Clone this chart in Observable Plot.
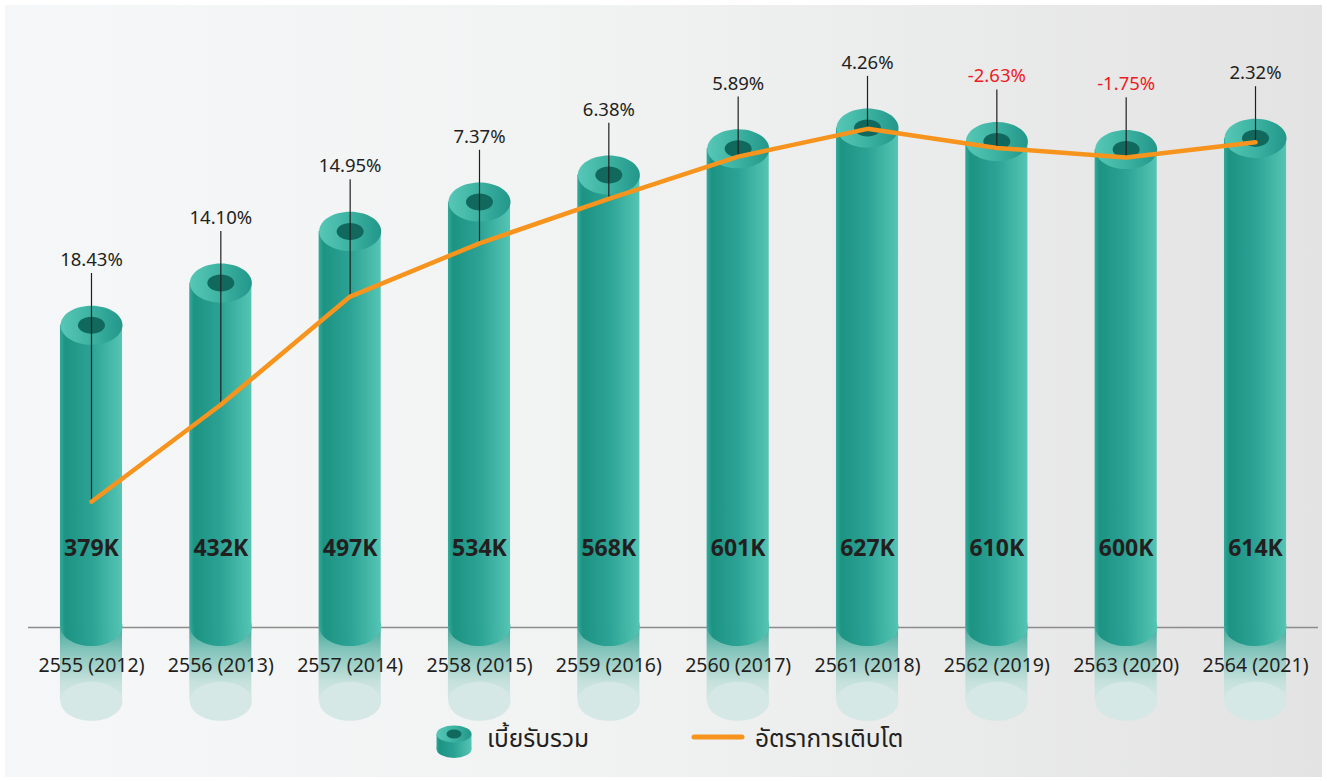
<!DOCTYPE html>
<html>
<head>
<meta charset="utf-8">
<script src="https://cdn.jsdelivr.net/npm/d3@7"></script>
<script src="https://cdn.jsdelivr.net/npm/@observablehq/plot@0.6"></script>
<style>
  html, body { margin: 0; padding: 0; background: #ffffff; }
  #panel {
    position: absolute; left: 5px; top: 5px; width: 1317px; height: 772px;
    background: linear-gradient(to right, #f6f7f8 0%, #f1f2f2 45%, #e3e3e3 100%);
    font-family: "Noto Sans", "Noto Sans Thai", sans-serif;
  }
  #chart { position: absolute; left: 0; top: 0; }
  #legend { position: absolute; left: 0; top: 713px; width: 1317px; height: 40px; }
  .lg { position: absolute; font-size: 24.5px; color: #231f20; line-height: 40px; top: 0; }
</style>
</head>
<body>
<svg width="0" height="0" style="position:absolute">
  <defs>
    <linearGradient id="body" x1="0" y1="0" x2="1" y2="0">
      <stop offset="0" stop-color="#33a999"/>
      <stop offset="0.08" stop-color="#1d9383"/>
      <stop offset="0.5" stop-color="#2ba294"/>
      <stop offset="1" stop-color="#55c5b4"/>
    </linearGradient>
    <linearGradient id="top" x1="0" y1="0" x2="1" y2="0">
      <stop offset="0" stop-color="#57c7b6"/>
      <stop offset="0.5" stop-color="#3cb2a2"/>
      <stop offset="1" stop-color="#22978a"/>
    </linearGradient>
    <linearGradient id="refl" x1="0" y1="0" x2="0" y2="1">
      <stop offset="0" stop-color="#44a89a"/>
      <stop offset="0.3" stop-color="#7fc3b9"/>
      <stop offset="0.75" stop-color="#c6e1dc"/>
      <stop offset="1" stop-color="#d5e8e5"/>
    </linearGradient>
  </defs>
</svg>
<div id="panel">
  <div id="chart"></div>
  <div id="legend">
    <svg style="position:absolute; left:431px; top:7px" width="37" height="36" viewBox="0 0 37 36">
      <rect x="0.5" y="9" width="35" height="15" fill="url(#body)"/>
      <ellipse cx="18" cy="24" rx="17.5" ry="9" fill="url(#body)"/>
      <ellipse cx="18" cy="9" rx="17.5" ry="8.5" fill="url(#top)"/>
      <ellipse cx="18" cy="9" rx="7.5" ry="4.5" fill="#11695e"/>
    </svg>
    <div class="lg" style="left:482px">เบี้ยรับรวม</div>
    <svg style="position:absolute; left:686px; top:14px" width="54" height="10">
      <line x1="3" y1="5" x2="51" y2="5" stroke="#f7941d" stroke-width="5" stroke-linecap="round"/>
    </svg>
    <div class="lg" style="left:750px">อัตราการเติบโต</div>
  </div>
</div>
<script>
// ---- data ----
const years = ["2555 (2012)", "2556 (2013)", "2557 (2014)", "2558 (2015)", "2559 (2016)",
               "2560 (2017)", "2561 (2018)", "2562 (2019)", "2563 (2020)", "2564 (2021)"];
const premium = [379, 432, 497, 534, 568, 601, 627, 610, 600, 614];          // thousand
const growth = [18.43, 14.10, 14.95, 7.37, 6.38, 5.89, 4.26, -2.63, -1.75, 2.32]; // %
// position of the decorative growth line, read in the same units as the bars
const lineLevel = [157, 279, 415, 482, 538, 591, 626, 602, 590, 609];

const data = years.map((year, i) => ({year, value: premium[i], growth: growth[i], level: lineLevel[i]}));

// ellipse symbol for cylinder faces
const ellipse = {
  draw(ctx, size) {
    const rx = Math.sqrt(size / Math.PI), ry = rx * 0.63, k = 0.5523;
    ctx.moveTo(rx, 0);
    ctx.bezierCurveTo(rx, ry * k, rx * k, ry, 0, ry);
    ctx.bezierCurveTo(-rx * k, ry, -rx, ry * k, -rx, 0);
    ctx.bezierCurveTo(-rx, -ry * k, -rx * k, -ry, 0, -ry);
    ctx.bezierCurveTo(rx * k, -ry, rx, -ry * k, rx, 0);
    ctx.closePath();
  }
};

const reflectDepth = -94;
const font = "Noto Sans, sans-serif";

const chart = Plot.plot({
  width: 1317,
  height: 719,
  marginLeft: 23,
  marginRight: 4,
  marginTop: 64.5,
  marginBottom: 2.6,
  style: {background: "transparent", fontFamily: font, overflow: "visible"},
  x: {type: "band", domain: years, paddingInner: 0.52, paddingOuter: 0.247, round: false, axis: null},
  y: {domain: [-120, 700], axis: null},
  marks: [
    Plot.ruleY([0], {stroke: "#8c8c8c", strokeWidth: 1.5, dy: 1}),
    // reflection
    Plot.barY(data, {x: "year", y1: 0, y2: reflectDepth, fill: "url(#refl)"}),
    Plot.dot(data, {x: "year", y: reflectDepth, r: 31, symbol: ellipse, fill: "#d5e8e5", stroke: null}),
    // cylinder
    Plot.dot(data, {x: "year", y: 0, r: 31, symbol: ellipse, fill: "url(#body)", stroke: null}),
    Plot.barY(data, {x: "year", y1: 0, y2: "value", fill: "url(#body)"}),
    Plot.dot(data, {x: "year", y: "value", r: 31, symbol: ellipse, fill: "url(#top)", stroke: null}),
    Plot.dot(data, {x: "year", y: "value", r: 13.5, symbol: ellipse, fill: "#11695e", stroke: null}),
    // leaders
    Plot.ruleX(data, {x: "year", y1: d => d.value + 65, y2: "level", stroke: "#231f20", strokeWidth: 1.2}),
    // growth line
    Plot.line(data, {x: "year", y: "level", stroke: "#f7941d", strokeWidth: 4.5, strokeLinejoin: "miter"}),
    // labels
    Plot.text(data.filter(d => d.growth >= 0), {x: "year", y: "value", dy: -65, text: d => d.growth.toFixed(2) + "%", fontSize: 18.5, fill: "#231f20"}),
    Plot.text(data.filter(d => d.growth < 0), {x: "year", y: "value", dy: -65, text: d => d.growth.toFixed(2) + "%", fontSize: 18.5, fill: "#ed1c24"}),
    Plot.text(data, {x: "year", y: 0, dy: -78, text: d => d.value + "K", fontSize: 23, fontWeight: "bold", fill: "#231f20"}),
    Plot.text(data, {x: "year", y: 0, dy: 39, text: "year", fontSize: 19.5, fill: "#231f20"})
  ]
});
document.getElementById("chart").appendChild(chart);
</script>
</body>
</html>
